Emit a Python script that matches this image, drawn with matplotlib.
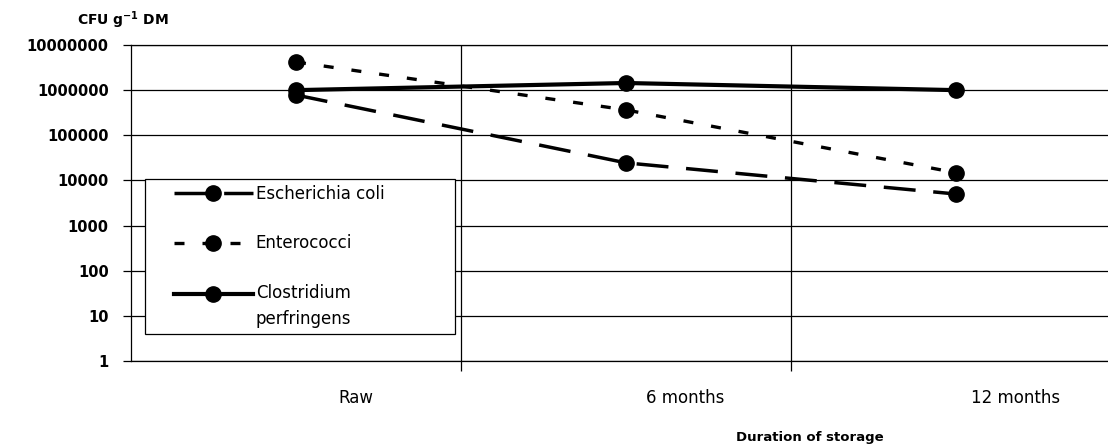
"""Bacterial counts during storage (log scale, CFU per g DM)."""
import matplotlib
import numpy as np

matplotlib.use('Agg')
import matplotlib.pyplot as plt
from matplotlib.legend_handler import HandlerLine2D
from matplotlib.lines import Line2D

plt.rcParams['font.family'] = ['DejaVu Sans']

categories = ['Raw', '6 months', '12 months']
ecoli       = [7.8e5, 2.45e4, 5.0e3]
enterococci = [4.2e6, 3.65e5, 1.48e4]
clostridium = [1.0e6, 1.44e6, 1.0e6]
ytick_vals   = [1, 10, 100, 1000, 10000, 100000, 1000000, 10000000]
ytick_labels = ['1', '10', '100', '1000', '10000', '100000', '1000000', '10000000']


class HandlerFirstLine(HandlerLine2D):
    """Put the legend handle level with the first line of a two-line label."""

    def create_artists(self, legend, orig_handle, xdescent, ydescent, width, height,
                       fontsize, trans):
        artists = super().create_artists(legend, orig_handle, xdescent, ydescent,
                                         width, height, fontsize, trans)
        for a in artists:
            a.set_ydata(np.asarray(a.get_ydata()) + 0.78 * fontsize)
        return artists


x = np.arange(len(categories))

fig = plt.figure(figsize=(11.08, 4.47), dpi=100)
ax = fig.add_axes([131 / 1108, 1 - 361 / 447, 1 - 131 / 1108, (361 - 45) / 447])

ax.plot(x, ecoli, color='black', linewidth=2.5, dashes=(9.2, 5.1),
        marker='o', markersize=11, label='Escherichia coli')
ax.plot(x, enterococci, color='black', linewidth=2.4, dashes=(3.0, 5.4),
        marker='o', markersize=11, label='Enterococci')
clos_line, = ax.plot(x, clostridium, color='black', linewidth=3.0, linestyle='-',
                     marker='o', markersize=11, label='Clostridium\nperfringens')

ax.set_yscale('log')
ax.set_ylim(1, 1e7)
ax.set_yticks(ytick_vals)
ax.set_yticklabels(ytick_labels, fontsize=10.5, fontweight='bold')
ax.yaxis.set_minor_locator(matplotlib.ticker.NullLocator())
ax.tick_params(axis='y', length=6, width=0.9, pad=10, color='black')

# category boundaries carry the tick marks / vertical grid, labels sit in between
ax.set_xlim(-0.5, -0.5 + 977 / 330)
ax.set_xticks(x[:-1] + 0.5)
ax.set_xticklabels([])
ax.tick_params(axis='x', which='major', length=7, width=0.9, color='black')
ax.set_xticks(x + 0.18, minor=True)
ax.set_xticklabels(categories, minor=True, fontsize=12)
ax.tick_params(axis='x', which='minor', length=0, pad=20)

ax.grid(True, which='major', color='black', linewidth=0.9)
ax.set_axisbelow(True)
for side in ['left', 'bottom', 'top']:
    ax.spines[side].set_linewidth(0.9)
ax.spines['right'].set_visible(False)

fig.text(77 / 1108, 1 - 20 / 447, r'CFU g$^{\mathbf{-1}}$ DM', fontsize=10,
         fontweight='bold', va='center', ha='left')
fig.text(810 / 1108, 1 - 437 / 447, 'Duration of storage', fontsize=9.5,
         fontweight='bold', va='center', ha='center')

leg = ax.legend(loc='upper left', bbox_to_anchor=(145 / 1108, 1 - 335 / 447, 310 / 1108, 156 / 447),
                bbox_transform=fig.transFigure, mode='expand', borderaxespad=0,
                fontsize=12, handlelength=6.1, handletextpad=0.2, labelspacing=1.9,
                borderpad=0.35, fancybox=False, framealpha=1, edgecolor='black',
                handler_map={Line2D: HandlerLine2D(xpad=1.4),
                             clos_line: HandlerFirstLine(xpad=1.4)})
leg.get_frame().set_linewidth(0.9)
for txt in leg.get_texts():
    txt.set_linespacing(1.55)

fig.savefig('out.png', dpi=100)
plt.close(fig)
